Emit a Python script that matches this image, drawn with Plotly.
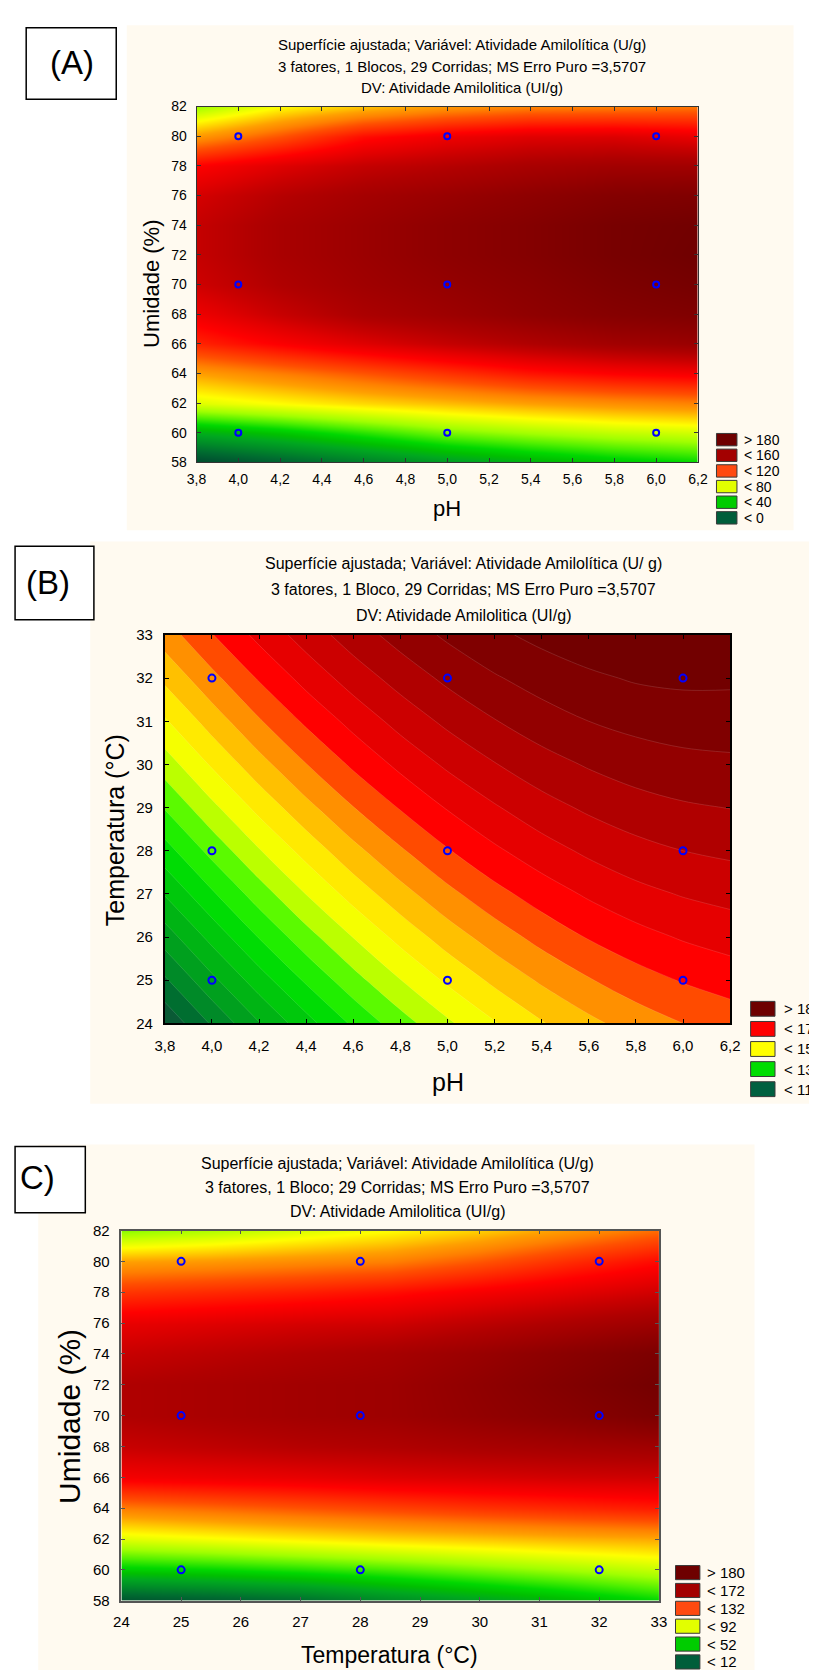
import plotly.graph_objects as go

W, H = 817, 1670
FONT = "Arial, 'Liberation Sans', Helvetica, sans-serif"

# ---------------- DATA ----------------
# Panel A : pH x Umidade (%)
A_ph = [3.8, 4.2, 4.6, 5.0, 5.4, 5.8, 6.2]
A_umid = [58, 60, 62, 64, 66, 68, 70, 72, 74, 76, 78, 80, 82]
A_z = [
    [-5, 5, 15, 25, 33, 40, 45],
    [32, 40, 50, 60, 66, 71, 74],
    [76, 82, 88, 93, 98, 102, 105],
    [98, 106, 114, 122, 130, 135, 138],
    [126, 136, 145, 153, 160, 166, 170],
    [140, 152, 162, 168, 174, 179, 182],
    [150, 160, 167, 172, 177, 183, 187],
    [153, 163, 169, 175, 180, 186, 190],
    [153, 163, 169, 175, 180, 186, 189],
    [148, 158, 165, 170, 175, 180, 182],
    [135, 145, 153, 158, 163, 166, 166],
    [100, 115, 132, 140, 145, 146, 142],
    [65, 82, 92, 100, 105, 106, 108],
]
A_pts_x = [4.0, 5.0, 6.0, 4.0, 5.0, 6.0, 4.0, 5.0, 6.0]
A_pts_y = [60, 60, 60, 70, 70, 70, 80, 80, 80]
A_xticks = [3.8, 4.0, 4.2, 4.4, 4.6, 4.8, 5.0, 5.2, 5.4, 5.6, 5.8, 6.0, 6.2]
A_xtext = ["3,8", "4,0", "4,2", "4,4", "4,6", "4,8", "5,0", "5,2", "5,4", "5,6", "5,8", "6,0", "6,2"]
A_yticks = [58, 60, 62, 64, 66, 68, 70, 72, 74, 76, 78, 80, 82]
A_leg_labels = ["> 180", "< 160", "< 120", "< 80", "< 40", "< 0"]
A_leg_colors = ["#6e0000", "#a30000", "#ff4a10", "#e2ff00", "#00cc00", "#005e3a"]
A_title = ["Superfície ajustada; Variável: Atividade Amilolítica (U/g)",
           "3 fatores, 1 Blocos, 29 Corridas; MS Erro Puro =3,5707",
           "DV: Atividade Amilolitica (UI/g)"]

# Panel B : pH x Temperatura (°C)
B_ph = [3.8, 4.0, 4.2, 4.4, 4.6, 4.8, 5.0, 5.2, 5.4, 5.6, 5.8, 6.0, 6.2]
B_temp = [24, 25, 26, 27, 28, 29, 30, 31, 32, 33]
B_z = [
    [104.7, 112.5, 119.8, 126.5, 132.7, 138.2, 143.3, 147.7, 151.7, 155.0, 157.8, 160.0, 161.7],
    [111.4, 119.0, 126.1, 132.6, 138.5, 143.9, 148.7, 152.9, 156.6, 159.7, 162.3, 164.3, 165.8],
    [117.9, 125.3, 132.2, 138.4, 144.1, 149.3, 153.9, 157.9, 161.4, 164.3, 166.6, 168.4, 169.7],
    [124.3, 131.4, 138.0, 144.1, 149.6, 154.5, 158.9, 162.7, 165.9, 168.6, 170.8, 172.3, 173.3],
    [130.4, 137.3, 143.7, 149.5, 154.8, 159.5, 163.7, 167.3, 170.3, 172.8, 174.7, 176.0, 176.8],
    [136.3, 143.0, 149.2, 154.8, 159.9, 164.3, 168.3, 171.6, 174.5, 176.7, 178.4, 179.5, 180.1],
    [142.0, 148.5, 154.5, 159.9, 164.7, 169.0, 172.7, 175.8, 178.4, 180.4, 181.9, 182.8, 183.2],
    [147.5, 153.8, 159.6, 164.7, 169.3, 173.4, 176.9, 179.8, 182.2, 184.0, 185.2, 185.9, 186.1],
    [152.9, 158.9, 164.4, 169.4, 173.8, 177.6, 180.9, 183.6, 185.7, 187.3, 188.4, 188.8, 188.7],
    [158.0, 163.8, 169.1, 173.8, 178.0, 181.6, 184.7, 187.2, 189.1, 190.5, 191.3, 191.5, 191.2],
]
B_pts_x = [4.0, 5.0, 6.0, 4.0, 5.0, 6.0, 4.0, 5.0, 6.0]
B_pts_y = [25, 25, 25, 28, 28, 28, 32, 32, 32]
B_xticks = A_xticks
B_xtext = A_xtext
B_yticks = [24, 25, 26, 27, 28, 29, 30, 31, 32, 33]
B_leg_labels = ["> 180", "< 176", "< 156", "< 136", "< 116"]
B_leg_colors = ["#6e0000", "#ff0000", "#ffff00", "#00dd00", "#006040"]
B_title = ["Superfície ajustada; Variável: Atividade Amilolítica (U/ g)",
           "3 fatores, 1 Bloco, 29 Corridas; MS Erro Puro =3,5707",
           "DV: Atividade Amilolitica (UI/g)"]

# Panel C : Temperatura (°C) x Umidade (%)
C_temp = [24, 25.5, 27, 28.5, 30, 31.5, 33]
C_umid = [58, 60, 62, 64, 66, 68, 70, 72, 74, 76, 78, 80, 82]
C_z = [
    [12, 16, 22, 32, 40, 48, 57],
    [54, 57, 61, 66, 72, 78, 84],
    [89, 93, 97, 101, 104, 107, 109],
    [118, 122, 126, 130, 134, 137, 140],
    [150, 152, 154, 157, 159, 161, 162],
    [164, 167, 170, 172, 175, 177, 179],
    [172, 175, 178, 180, 185, 190, 196],
    [172, 175, 178, 180, 186, 193, 200],
    [164, 168, 172, 176, 182, 189, 196],
    [154, 157, 160, 162, 168, 174, 180],
    [134, 137, 140, 144, 150, 156, 162],
    [110, 112, 115, 118, 126, 136, 145],
    [74, 80, 87, 94, 102, 112, 122],
]
C_pts_x = [25, 28, 32, 25, 28, 32, 25, 28, 32]
C_pts_y = [60, 60, 60, 70, 70, 70, 80, 80, 80]
C_xticks = [24, 25, 26, 27, 28, 29, 30, 31, 32, 33]
C_yticks = A_yticks
C_leg_labels = ["> 180", "< 172", "< 132", "< 92", "< 52", "< 12"]
C_leg_colors = ["#6e0000", "#a30000", "#ff4a10", "#e2ff00", "#00cc00", "#005e3a"]
C_title = ["Superfície ajustada; Variável: Atividade Amilolítica (U/g)",
           "3 fatores, 1 Bloco; 29 Corridas; MS Erro Puro =3,5707",
           "DV: Atividade Amilolitica (UI/g)"]

# ---------------- STYLE ----------------
AC_stops = [(-10, "#00402a"), (0, "#005430"), (10, "#006e30"), (20, "#008c28"),
            (30, "#00a820"), (38, "#00c000"), (45, "#00d800"), (55, "#50f000"),
            (65, "#a0ff00"), (75, "#d8ff00"), (82, "#ffff00"), (90, "#ffd000"),
            (98, "#ffa000"), (106, "#ff8000"), (115, "#ff5000"), (125, "#ff2800"),
            (135, "#ff0000"), (145, "#e00000"), (152, "#c80000"), (160, "#b00000"),
            (167, "#a00000"), (174, "#900000"), (182, "#800000"), (190, "#700000"),
            (200, "#600000")]
B_stops = [(100, "#0a4a2e"), (106, "#0a5a35"), (110, "#006e30"), (114, "#008a28"),
           (118, "#00a01e"), (122, "#00b414"), (126, "#00c80c"), (130, "#00dc04"),
           (134, "#20ee00"), (137, "#44f800"), (140, "#88ff00"), (142.5, "#c8ff00"),
           (145, "#f0ff00"), (148, "#ffff00"), (151, "#ffe000"), (154, "#ffc000"),
           (157, "#ffa000"), (160, "#ff7000"), (163, "#ff3800"), (166, "#ff0000"),
           (170, "#e60000"), (174, "#cc0000"), (178, "#b00000"), (181, "#980000"),
           (184, "#880000"), (187, "#7c0000"), (190, "#720000"), (196, "#640000")]


def make_scale(stops, offset=0.0):
    lo = stops[0][0] + offset
    hi = stops[-1][0] + offset
    return [[(v + offset - lo) / (hi - lo), c] for v, c in stops], lo, hi


def fx(x):
    return x / W


def fy(y):
    return 1 - y / H


fig = go.Figure()
shapes = []
ann = []

# panel geometry (pixels)
P = {
    "A": dict(x0=183, x1=697, y0=90.5, y1=450),
    "B": dict(x0=150.5, x1=730, y0=624.3, y1=1016.7),
    "C": dict(x0=106, x1=657, y0=1226, y1=1600),
}

# --- traces ---
scA, zA0, zA1 = make_scale(AC_stops)
fig.add_trace(go.Heatmap(x=A_ph, y=A_umid, z=A_z, colorscale=scA, zmin=zA0, zmax=zA1,
                         zsmooth="best", showscale=False, hoverinfo="skip",
                         xaxis="x", yaxis="y"))
fig.add_trace(go.Scatter(x=A_pts_x, y=A_pts_y, mode="markers", xaxis="x", yaxis="y",
                         marker=dict(symbol="circle-open", size=6, color="#0000ff",
                                     line=dict(width=2, color="#0000ff")),
                         hoverinfo="skip", showlegend=False))

scB, zB0, zB1 = make_scale(B_stops)
fig.add_trace(go.Contour(x=B_ph, y=B_temp, z=B_z, colorscale=scB, zmin=zB0, zmax=zB1,
                         autocontour=False,
                         contours=dict(start=100, end=196, size=4, coloring="fill"),
                         line=dict(width=0.7, color="rgba(255,255,255,0.18)", smoothing=1.0),
                         showscale=False, hoverinfo="skip", xaxis="x2", yaxis="y2"))
fig.add_trace(go.Scatter(x=B_pts_x, y=B_pts_y, mode="markers", xaxis="x2", yaxis="y2",
                         marker=dict(symbol="circle-open", size=7, color="#0000ff",
                                     line=dict(width=2, color="#0000ff")),
                         hoverinfo="skip", showlegend=False))

scC, zC0, zC1 = make_scale(AC_stops, offset=12)
fig.add_trace(go.Heatmap(x=C_temp, y=C_umid, z=C_z, colorscale=scC, zmin=zC0, zmax=zC1,
                         zsmooth="best", showscale=False, hoverinfo="skip",
                         xaxis="x3", yaxis="y3"))
fig.add_trace(go.Scatter(x=C_pts_x, y=C_pts_y, mode="markers", xaxis="x3", yaxis="y3",
                         marker=dict(symbol="circle-open", size=7, color="#0000ff",
                                     line=dict(width=2, color="#0000ff")),
                         hoverinfo="skip", showlegend=False))


def axis(p, which, rng, tickvals, ticktext, anchor, lc, lw, standoff, fsize):
    g = P[p]
    if which == "x":
        dom = [fx(g["x0"]), fx(g["x1"])]
    else:
        dom = [fy(g["y1"]), fy(g["y0"])]
    return dict(domain=dom, range=rng, tickvals=tickvals, ticktext=ticktext,
                anchor=anchor, showline=True, linecolor=lc, linewidth=lw, mirror="ticks",
                ticks="inside", ticklen=4, tickcolor=lc, tickwidth=1, showgrid=False,
                zeroline=False, ticklabelstandoff=standoff,
                tickfont=dict(family=FONT, size=fsize, color="#000"))


layout_axes = dict(
    xaxis=axis("A", "x", [3.8, 6.2], A_xticks, A_xtext, "y", "#333", 1, 4, 14),
    yaxis=axis("A", "y", [58, 82], A_yticks, [str(v) for v in A_yticks], "x", "#333", 1, 6, 14),
    xaxis2=axis("B", "x", [3.8, 6.2], B_xticks, B_xtext, "y2", "#000", 2, 8, 15),
    yaxis2=axis("B", "y", [24, 33], B_yticks, [str(v) for v in B_yticks], "x2", "#000", 2, 7, 15),
    xaxis3=axis("C", "x", [24, 33], C_xticks, [str(v) for v in C_xticks], "y3", "#555", 1.5, 7, 15),
    yaxis3=axis("C", "y", [58, 82], C_yticks, [str(v) for v in C_yticks], "x3", "#555", 1.5, 7, 15),
)

# --- backgrounds ---
for (x0, x1, y0, y1) in [(111.5, 795, 8.4, 518.6), (74, 820, 530, 1098), (20.7, 755, 1139, 1675)]:
    shapes.append(dict(type="rect", xref="paper", yref="paper", layer="below",
                       x0=fx(x0), x1=fx(x1), y0=fy(y1), y1=fy(y0),
                       fillcolor="#fffaf0", line=dict(width=0)))

# --- panel label boxes (the C label is cut by the left page edge in the original) ---
for (x0, x1, y0, y1, txt, tx, ty, anchor) in [
        (8.4, 100.7, 10.8, 83, "(A)", 55, 46, "center"),
        (-3, 77.8, 534.8, 608.9, "(B)", 31, 571, "center"),
        (-3, 69, 1141, 1208, "C)", 0, 1172, "left")]:
    shapes.append(dict(type="rect", xref="paper", yref="paper", layer="above",
                       x0=fx(x0), x1=fx(x1), y0=fy(y1), y1=fy(y0),
                       fillcolor="#ffffff", line=dict(color="#000", width=1.5)))
    ann.append(dict(x=fx(tx), y=fy(ty), xref="paper", yref="paper", text=txt,
                    showarrow=False, xanchor=anchor, yanchor="middle",
                    font=dict(family=FONT, size=33, color="#000")))

# --- titles ---
for lines, cx, ys, fs in [(A_title, 455, [28, 50, 71.6], 15),
                          (B_title, 456.5, [552.6, 578.5, 604.4], 16),
                          (C_title, 389, [1158, 1183, 1206.5], 16)]:
    for t, yy in zip(lines, ys):
        ann.append(dict(x=fx(cx), y=fy(yy), xref="paper", yref="paper", text=t,
                        showarrow=False, xanchor="center", yanchor="middle",
                        font=dict(family=FONT, size=fs, color="#000")))

# --- axis titles ---
for (t, x, y, ang, fs) in [("Umidade (%)", 137, 270, -90, 22), ("pH", 440, 497, 0, 22),
                           ("Temperatura (°C)", 99, 822, -90, 25), ("pH", 441, 1075.6, 0, 25),
                           ("Umidade (%)", 52, 1413.6, -90, 30),
                           ("Temperatura (°C)", 381, 1654.5, 0, 23)]:
    ann.append(dict(x=fx(x), y=fy(y), xref="paper", yref="paper", text=t, textangle=ang,
                    showarrow=False, xanchor="center", yanchor="middle",
                    font=dict(family=FONT, size=fs, color="#000")))


# --- legends ---
def add_legend(labels, colors, x0, x1, yc0, step, h, tx, fs):
    for i, (lab, col) in enumerate(zip(labels, colors)):
        yc = yc0 + i * step
        shapes.append(dict(type="rect", xref="paper", yref="paper", layer="above",
                           x0=fx(x0), x1=fx(x1), y0=fy(yc + h / 2), y1=fy(yc - h / 2),
                           fillcolor=col, line=dict(color="#3a3a3a", width=1)))
        ann.append(dict(x=fx(tx), y=fy(yc), xref="paper", yref="paper", text=lab,
                        showarrow=False, xanchor="left", yanchor="middle",
                        font=dict(family=FONT, size=fs, color="#000")))


add_legend(A_leg_labels, A_leg_colors, 716, 737, 427, 15.8, 12.5, 742, 14)
add_legend(B_leg_labels, B_leg_colors, 751, 776, 1002, 20.3, 15, 783, 15)
add_legend(C_leg_labels, C_leg_colors, 674, 699, 1571.6, 18.05, 14.3, 704, 15)

fig.update_layout(
    width=W, height=H, autosize=False,
    margin=dict(l=0, r=0, t=0, b=0, pad=0),
    paper_bgcolor="#ffffff", plot_bgcolor="rgba(0,0,0,0)",
    showlegend=False, hovermode=False,
    shapes=shapes, annotations=ann,
    **layout_axes,
)

fig.write_html("out.html", include_plotlyjs=True, full_html=True,
               config=dict(displayModeBar=False, responsive=False))
